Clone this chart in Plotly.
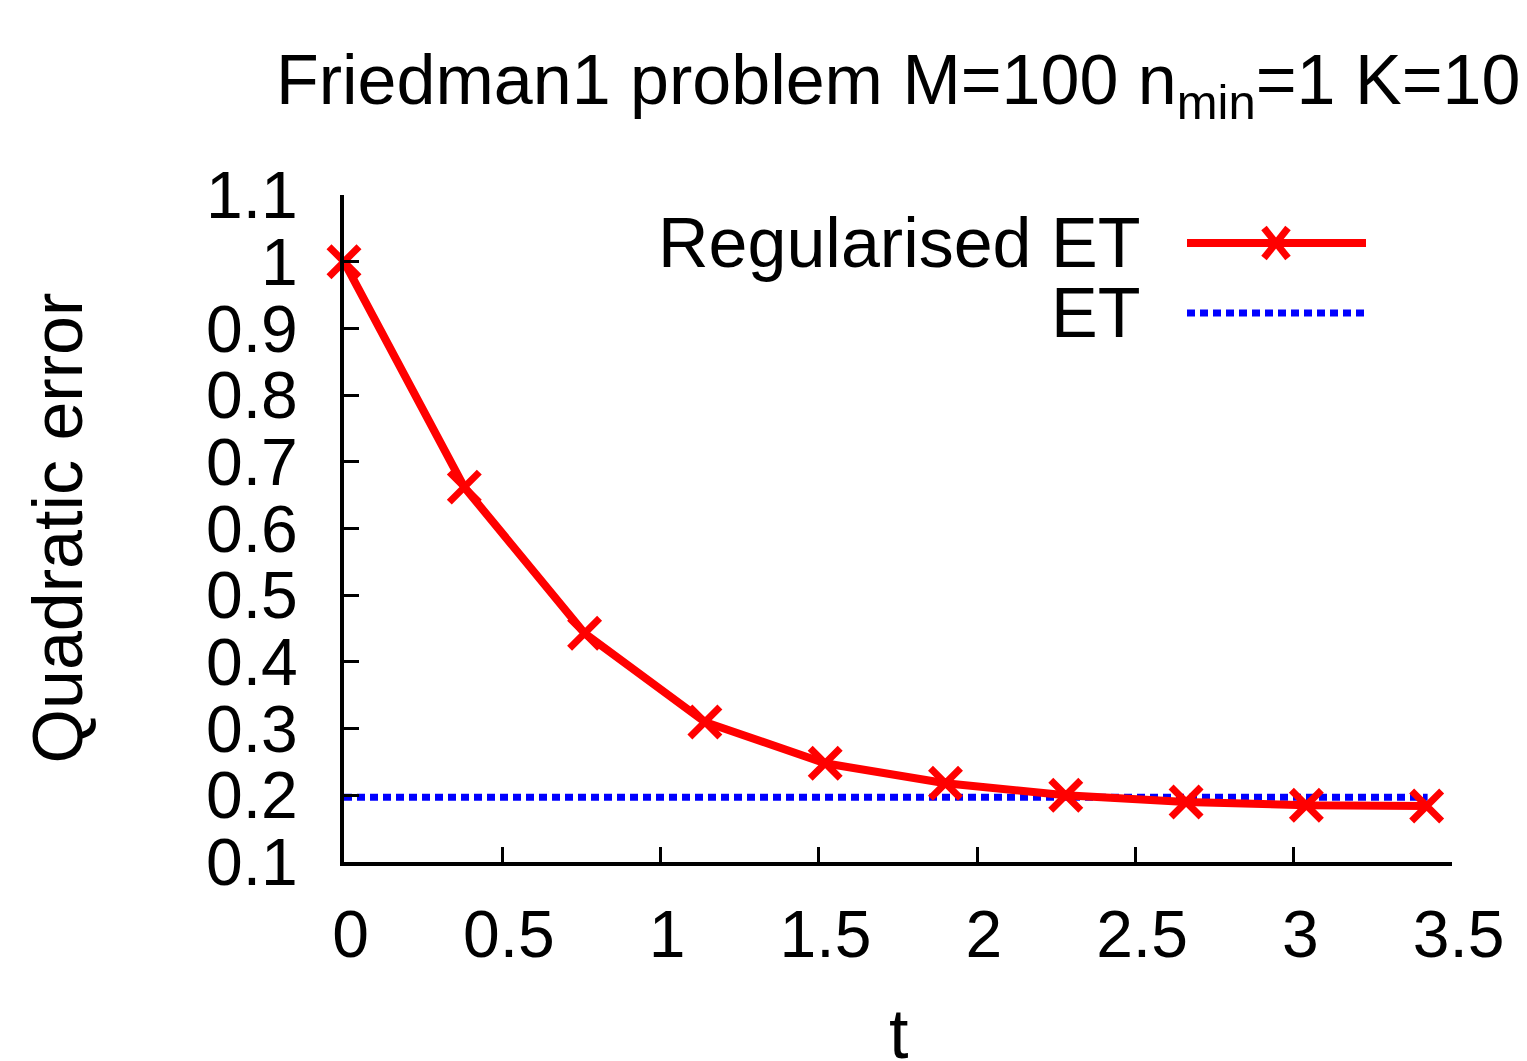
import plotly.graph_objects as go

# ---- data ----
t_values = [0.0, 0.38, 0.76, 1.14, 1.52, 1.90, 2.28, 2.66, 3.04, 3.42]
reg_et_error = [1.0, 0.662, 0.443, 0.310, 0.248, 0.218, 0.200, 0.190, 0.185, 0.184]
et_error = 0.197
x_ticks = [0, 0.5, 1, 1.5, 2, 2.5, 3, 3.5]
y_ticks = [0.1, 0.2, 0.3, 0.4, 0.5, 0.6, 0.7, 0.8, 0.9, 1.0, 1.1]
series_names = ["Regularised ET", "ET"]

FONT = "Liberation Sans, Arial, Helvetica, sans-serif"
OFF = 8  # page body margin
PAGE_W, PAGE_H = 1527, 1061
W, H = PAGE_W - OFF, PAGE_H - OFF
# plot area in page pixels
PX0, PX1, PY0, PY1 = 344, 1452, 195, 862
L, R, T, B = PX0 - OFF, PAGE_W - PX1, PY0 - OFF, PAGE_H - PY1

fig = go.Figure()

fig.add_trace(go.Scatter(
    x=[x_ticks[0], x_ticks[-1] * 0.978], y=[et_error, et_error],
    mode="lines", line=dict(color="#0000ff", width=7, dash="8px,5px"),
    name=series_names[1], showlegend=False,
))
fig.add_trace(go.Scatter(
    x=t_values, y=reg_et_error, mode="lines+markers", cliponaxis=False,
    line=dict(color="#ff0000", width=8),
    marker=dict(symbol="x-thin", size=30, line=dict(color="#ff0000", width=7), color="#ff0000"),
    name=series_names[0], showlegend=False,
))

fig.update_xaxes(
    range=[0, 3.5], tickvals=x_ticks, ticktext=["\u2009" + f"{v:g}" for v in x_ticks],
    showgrid=False, zeroline=False, showline=True, linecolor="black", linewidth=4,
    ticks="inside", ticklen=15, tickwidth=3, tickcolor="black",
    tickfont=dict(family=FONT, size=66, color="black"), ticklabelstandoff=12,
)
fig.update_yaxes(
    range=[0.1, 1.1], tickvals=y_ticks, ticktext=[f"{v:g}" for v in y_ticks],
    showgrid=False, zeroline=False, showline=True, linecolor="black", linewidth=4,
    ticks="inside", ticklen=15, tickwidth=3, tickcolor="black",
    tickfont=dict(family=FONT, size=66, color="black"), ticklabelstandoff=29,
)

pw = PX1 - PX0
ph = PY1 - PY0

def px_x(p):
    return (p - PX0) / pw

def px_y(p):
    return (PY1 - p) / ph

annotations = [
    dict(text="Friedman1 problem M=100 n<sub>min</sub>=1 K=10", xref="paper", yref="paper",
         x=0.5, y=px_y(85), xanchor="center", yanchor="middle", showarrow=False,
         font=dict(family=FONT, size=70, color="black")),
    dict(text="Quadratic error", xref="paper", yref="paper", x=px_x(57), y=0.5,
         xanchor="center", yanchor="middle", textangle=-90, showarrow=False,
         font=dict(family=FONT, size=70, color="black")),
    dict(text="t", xref="paper", yref="paper", x=0.5, y=px_y(1034),
         xanchor="center", yanchor="middle", showarrow=False,
         font=dict(family=FONT, size=70, color="black")),
    dict(text=series_names[0], xref="paper", yref="paper", x=px_x(1142), y=px_y(243),
         xanchor="right", yanchor="middle", showarrow=False,
         font=dict(family=FONT, size=70, color="black")),
    dict(text=series_names[1], xref="paper", yref="paper", x=px_x(1142), y=px_y(313),
         xanchor="right", yanchor="middle", showarrow=False,
         font=dict(family=FONT, size=70, color="black")),
]

shapes = [
    dict(type="line", xref="paper", yref="paper", x0=px_x(1187), x1=px_x(1366),
         y0=px_y(243), y1=px_y(243), line=dict(color="#ff0000", width=8)),
    dict(type="line", xref="paper", yref="paper", x0=px_x(1187), x1=px_x(1366),
         y0=px_y(313), y1=px_y(313), line=dict(color="#0000ff", width=7, dash="8px,5px")),
]
# legend cross marker (pixel sized)
for sgn in (1, -1):
    shapes.append(dict(type="line", xref="paper", yref="paper",
                       xsizemode="pixel", ysizemode="pixel",
                       xanchor=px_x(1276), yanchor=px_y(243),
                       x0=-12, x1=12, y0=-15 * sgn, y1=15 * sgn,
                       line=dict(color="#ff0000", width=7)))

fig.update_layout(
    width=W, height=H,
    margin=dict(l=L, r=R, t=T, b=B, pad=0),
    paper_bgcolor="white", plot_bgcolor="white",
    showlegend=False,
    annotations=annotations, shapes=shapes,
)

fig.write_html("out.html")
